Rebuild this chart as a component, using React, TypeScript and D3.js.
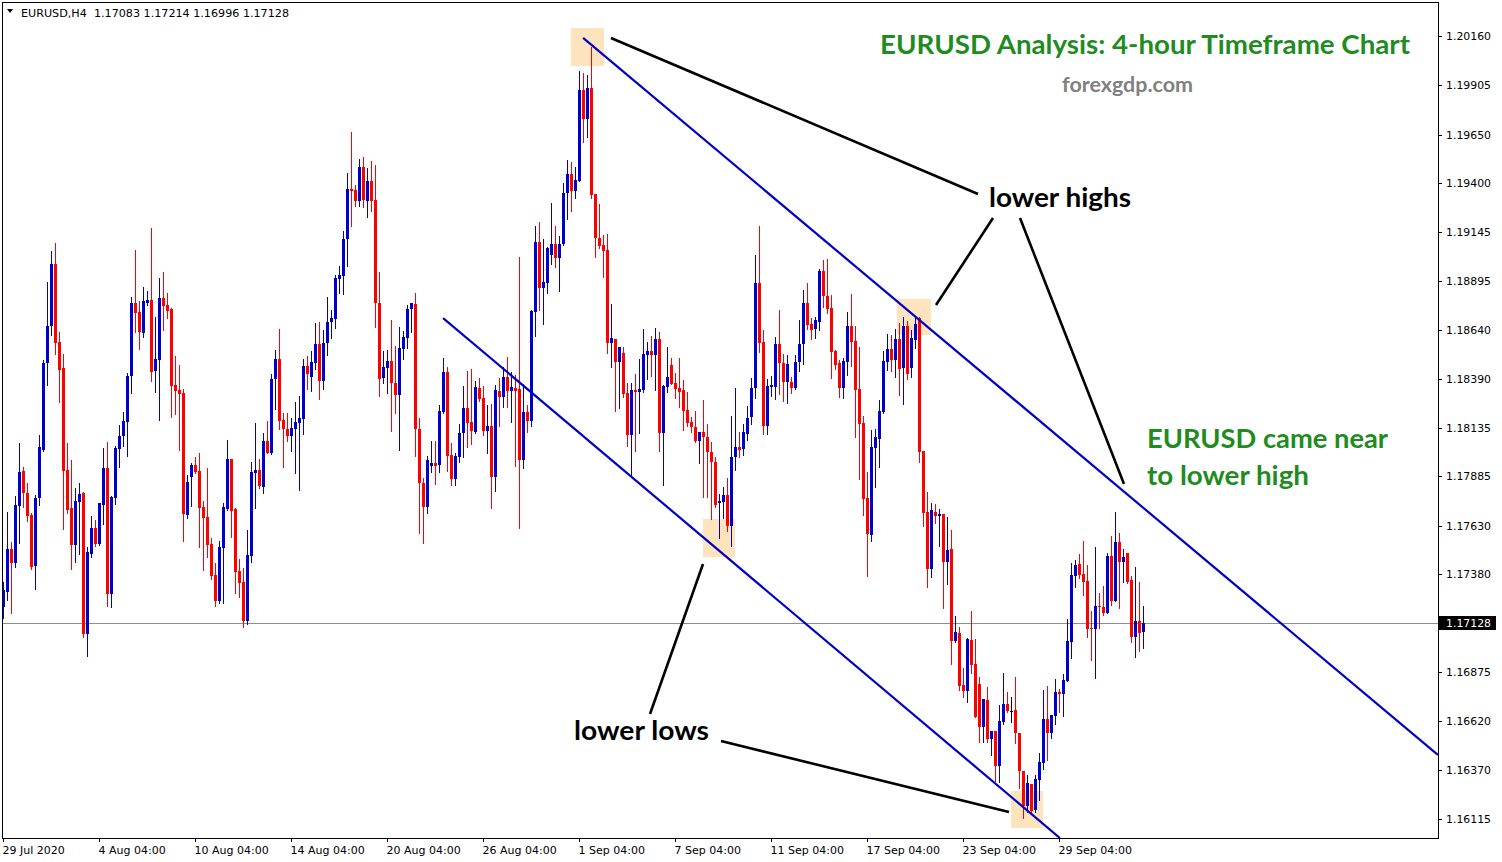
import React, { useRef, useEffect } from 'react'
import { select, scaleLinear } from 'd3'

// EURUSD H4 candles (29 Jul 2020 .. 1 Oct 2020)
const opens = [
  1.17211, 1.17289, 1.17510, 1.17436, 1.17732, 1.17913, 1.17797, 1.17685, 1.17423, 1.17772,
  1.18021, 1.18469, 1.18662, 1.18984, 1.18579, 1.18446, 1.17918, 1.17723, 1.17530, 1.17754,
  1.17797, 1.17070, 1.17484, 1.17620, 1.17535, 1.17737, 1.17930, 1.17277, 1.17775, 1.18028,
  1.18093, 1.18167, 1.18405, 1.18779, 1.18732, 1.18627, 1.18783, 1.18796, 1.18431, 1.18486,
  1.18805, 1.18770, 1.18750, 1.18357, 1.18331, 1.18317, 1.17685, 1.17883, 1.17944, 1.17914,
  1.17728, 1.17676, 1.17535, 1.17375, 1.17242, 1.17516, 1.17715, 1.17975, 1.17716, 1.17396,
  1.17341, 1.17139, 1.17475, 1.17904, 1.17918, 1.17831, 1.18068, 1.18004, 1.18388, 1.18491,
  1.18176, 1.18130, 1.18093, 1.18130, 1.18159, 1.18181, 1.18455, 1.18400, 1.18472, 1.18569,
  1.18379, 1.18572, 1.18681, 1.18698, 1.18904, 1.18922, 1.19109, 1.19370, 1.19364, 1.19309,
  1.19485, 1.19309, 1.19411, 1.19313, 1.18782, 1.18395, 1.18446, 1.18482, 1.18369, 1.18305,
  1.18541, 1.18601, 1.18748, 1.18775, 1.18128, 1.17849, 1.17725, 1.17940, 1.17955, 1.17944,
  1.18216, 1.18422, 1.17995, 1.17871, 1.17986, 1.18107, 1.18240, 1.18164, 1.18116, 1.18343,
  1.18291, 1.18121, 1.18147, 1.17883, 1.18327, 1.18293, 1.18400, 1.18327, 1.18343, 1.18335,
  1.17969, 1.18216, 1.18171, 1.18736, 1.19097, 1.18860, 1.18885, 1.19029, 1.19084, 1.19015,
  1.19084, 1.19347, 1.19447, 1.19361, 1.19412, 1.19881, 1.19731, 1.19893, 1.19344, 1.19115,
  1.19080, 1.19054, 1.18572, 1.18595, 1.18477, 1.18524, 1.18317, 1.18099, 1.18331, 1.18322,
  1.18331, 1.18512, 1.18533, 1.18512, 1.18595, 1.18110, 1.18348, 1.18460, 1.18369, 1.18343,
  1.18331, 1.18228, 1.18167, 1.18141, 1.18069, 1.18116, 1.18090, 1.18009, 1.17961, 1.17746,
  1.17754, 1.17789, 1.17630, 1.17983, 1.18035, 1.18026, 1.18102, 1.18193, 1.18340, 1.18885,
  1.18581, 1.18147, 1.18348, 1.18348, 1.18569, 1.18469, 1.18374, 1.18371, 1.18343, 1.18477,
  1.18569, 1.18783, 1.18672, 1.18645, 1.18684, 1.18946, 1.18817, 1.18756, 1.18533, 1.18472,
  1.18343, 1.18477, 1.18662, 1.18586, 1.18336, 1.18162, 1.17775, 1.17582, 1.18030, 1.18078,
  1.18216, 1.18477, 1.18543, 1.18486, 1.18595, 1.18443, 1.18662, 1.18446, 1.18589, 1.18701,
  1.18016, 1.17702, 1.17405, 1.17702, 1.17682, 1.17690, 1.17444, 1.17508, 1.17034, 1.17077,
  1.16807, 1.16777, 1.17039, 1.16915, 1.16812, 1.16591, 1.16729, 1.16526, 1.16569, 1.16390,
  1.16617, 1.16707, 1.16674, 1.16678, 1.16557, 1.16363, 1.16183, 1.16294, 1.16161, 1.16316,
  1.16402, 1.16631, 1.16557, 1.16648, 1.16769, 1.16759, 1.16828, 1.17031, 1.17372, 1.17430,
  1.17380, 1.17344, 1.17100, 1.17095, 1.17215, 1.17211, 1.17177, 1.17475, 1.17241, 1.17544,
  1.17444, 1.17487, 1.17349, 1.17056, 1.17138, 1.17083,
]

const highs = [
  1.17341, 1.17702, 1.17547, 1.17785, 1.18059, 1.17935, 1.17852, 1.17697, 1.17789, 1.18099,
  1.18486, 1.18891, 1.19051, 1.19092, 1.18632, 1.18517, 1.18059, 1.17969, 1.17826, 1.17850,
  1.17802, 1.17521, 1.17680, 1.17659, 1.17749, 1.18033, 1.18064, 1.17783, 1.18042, 1.18150,
  1.18216, 1.18417, 1.18810, 1.19054, 1.18791, 1.18865, 1.18843, 1.19166, 1.18710, 1.18908,
  1.18942, 1.18831, 1.18753, 1.18507, 1.18460, 1.18335, 1.17892, 1.17955, 1.17983, 1.18007,
  1.17758, 1.17926, 1.17565, 1.17436, 1.17551, 1.17749, 1.18073, 1.17975, 1.17721, 1.17456,
  1.17410, 1.17608, 1.17961, 1.18162, 1.17975, 1.18110, 1.18171, 1.18414, 1.18538, 1.18646,
  1.18211, 1.18211, 1.18185, 1.18267, 1.18300, 1.18491, 1.18507, 1.18533, 1.18679, 1.18684,
  1.18641, 1.18813, 1.18744, 1.18925, 1.18973, 1.19152, 1.19454, 1.19662, 1.19390, 1.19525,
  1.19535, 1.19480, 1.19514, 1.19494, 1.18939, 1.18533, 1.18538, 1.18693, 1.18558, 1.18658,
  1.18637, 1.18770, 1.18783, 1.18834, 1.18188, 1.17875, 1.17990, 1.18068, 1.18068, 1.18254,
  1.18498, 1.18451, 1.18059, 1.18007, 1.18154, 1.18353, 1.18431, 1.18440, 1.18379, 1.18391,
  1.18352, 1.18254, 1.18259, 1.18357, 1.18391, 1.18451, 1.18503, 1.18422, 1.18409, 1.19020,
  1.18362, 1.18254, 1.18744, 1.19178, 1.19201, 1.19111, 1.19070, 1.19299, 1.19178, 1.19127,
  1.19402, 1.19519, 1.19511, 1.19482, 1.19979, 1.19967, 1.19959, 1.20105, 1.19344, 1.19292,
  1.19132, 1.19137, 1.18775, 1.18595, 1.18555, 1.18552, 1.18366, 1.18366, 1.18414, 1.18491,
  1.18646, 1.18581, 1.18612, 1.18653, 1.18632, 1.18357, 1.18555, 1.18495, 1.18417, 1.18495,
  1.18383, 1.18322, 1.18193, 1.18224, 1.18116, 1.18279, 1.18155, 1.18061, 1.17983, 1.17794,
  1.17831, 1.17875, 1.18198, 1.18343, 1.18112, 1.18155, 1.18250, 1.18391, 1.19029, 1.19180,
  1.18641, 1.18386, 1.18403, 1.18606, 1.18744, 1.18515, 1.18512, 1.18400, 1.18512, 1.18693,
  1.18848, 1.18885, 1.18701, 1.18710, 1.18955, 1.19003, 1.19008, 1.18822, 1.18538, 1.18486,
  1.18498, 1.18736, 1.18827, 1.18662, 1.18555, 1.18198, 1.17909, 1.18124, 1.18130, 1.18279,
  1.18533, 1.18620, 1.18615, 1.18646, 1.18676, 1.18710, 1.18688, 1.18641, 1.18710, 1.18710,
  1.18016, 1.17806, 1.17749, 1.17742, 1.17716, 1.17690, 1.17673, 1.17608, 1.17165, 1.17105,
  1.16896, 1.17048, 1.17189, 1.17043, 1.16847, 1.16733, 1.16795, 1.16569, 1.16569, 1.16704,
  1.16867, 1.16769, 1.16746, 1.16850, 1.16557, 1.16363, 1.16342, 1.16294, 1.16342, 1.16455,
  1.16781, 1.16803, 1.16652, 1.16838, 1.16785, 1.16864, 1.17148, 1.17436, 1.17453, 1.17484,
  1.17551, 1.17427, 1.17189, 1.17521, 1.17284, 1.17320, 1.17487, 1.17577, 1.17699, 1.17591,
  1.17510, 1.17487, 1.17370, 1.17418, 1.17341, 1.17214,
]

const lows = [
  1.17151, 1.17246, 1.17180, 1.17418, 1.17542, 1.17725, 1.17656, 1.17405, 1.17303, 1.17737,
  1.18017, 1.18357, 1.18615, 1.18517, 1.18271, 1.17613, 1.17694, 1.17406, 1.17442, 1.17484,
  1.17053, 1.16957, 1.17470, 1.17525, 1.17530, 1.17639, 1.17215, 1.17211, 1.17742, 1.17933,
  1.18043, 1.17992, 1.18314, 1.18632, 1.18543, 1.18606, 1.18770, 1.18378, 1.18322, 1.18176,
  1.18641, 1.18701, 1.18193, 1.18205, 1.18021, 1.17552, 1.17668, 1.17732, 1.17901, 1.17521,
  1.17401, 1.17467, 1.17355, 1.17217, 1.17229, 1.17229, 1.17711, 1.17570, 1.17281, 1.17260,
  1.17108, 1.17122, 1.17444, 1.17720, 1.17823, 1.17797, 1.18004, 1.18000, 1.18233, 1.18130,
  1.17935, 1.18069, 1.18016, 1.17904, 1.17814, 1.18104, 1.18336, 1.18327, 1.18438, 1.18285,
  1.18336, 1.18512, 1.18598, 1.18650, 1.18831, 1.18827, 1.18973, 1.19180, 1.19283, 1.19283,
  1.19278, 1.19226, 1.19257, 1.18658, 1.18300, 1.18366, 1.18314, 1.18121, 1.18214, 1.18021,
  1.18490, 1.18550, 1.18632, 1.17990, 1.17594, 1.17542, 1.17694, 1.17909, 1.17845, 1.17909,
  1.18211, 1.17914, 1.17840, 1.17840, 1.17961, 1.17983, 1.18038, 1.18052, 1.18110, 1.18276,
  1.18099, 1.18007, 1.17723, 1.17811, 1.18147, 1.18245, 1.18245, 1.18167, 1.17940, 1.17620,
  1.17926, 1.18112, 1.18147, 1.18612, 1.18744, 1.18672, 1.18834, 1.18982, 1.18968, 1.18843,
  1.19080, 1.19215, 1.19256, 1.19325, 1.19412, 1.19614, 1.19640, 1.19321, 1.19017, 1.19066,
  1.18916, 1.18524, 1.18451, 1.18224, 1.18236, 1.18296, 1.18043, 1.17883, 1.18016, 1.18110,
  1.18319, 1.18388, 1.18405, 1.18331, 1.18016, 1.17840, 1.18322, 1.18362, 1.18291, 1.18245,
  1.18124, 1.18145, 1.18112, 1.18064, 1.17952, 1.17777, 1.17777, 1.17665, 1.17725, 1.17568,
  1.17671, 1.17604, 1.17527, 1.17918, 1.17986, 1.17995, 1.18073, 1.18155, 1.18288, 1.18529,
  1.18102, 1.18104, 1.18302, 1.18285, 1.18310, 1.18276, 1.18265, 1.18317, 1.18335, 1.18431,
  1.18464, 1.18646, 1.18593, 1.18598, 1.18641, 1.18761, 1.18730, 1.18395, 1.18440, 1.18296,
  1.18291, 1.18409, 1.18457, 1.18090, 1.17871, 1.17685, 1.17372, 1.17552, 1.17829, 1.17935,
  1.18211, 1.18434, 1.18429, 1.18397, 1.18305, 1.18259, 1.18388, 1.18400, 1.18550, 1.17957,
  1.17628, 1.17315, 1.17363, 1.17645, 1.17527, 1.17203, 1.17329, 1.16915, 1.17027, 1.16781,
  1.16746, 1.16717, 1.16867, 1.16640, 1.16511, 1.16514, 1.16511, 1.16445, 1.16312, 1.16304,
  1.16604, 1.16666, 1.16617, 1.16509, 1.16276, 1.16118, 1.16149, 1.16144, 1.16152, 1.16213,
  1.16371, 1.16419, 1.16535, 1.16605, 1.16666, 1.16648, 1.16828, 1.16948, 1.17315, 1.17358,
  1.17272, 1.17056, 1.16936, 1.16845, 1.17100, 1.17169, 1.17177, 1.17220, 1.17241, 1.17206,
  1.17341, 1.17335, 1.17031, 1.16953, 1.16984, 1.16996,
]

const closes = [
  1.17298, 1.17510, 1.17436, 1.17737, 1.17909, 1.17797, 1.17682, 1.17418, 1.17775, 1.18037,
  1.18471, 1.18662, 1.18984, 1.18572, 1.18434, 1.17914, 1.17711, 1.17530, 1.17758, 1.17794,
  1.17070, 1.17496, 1.17620, 1.17535, 1.17746, 1.17930, 1.17277, 1.17780, 1.18033, 1.18093,
  1.18171, 1.18403, 1.18779, 1.18730, 1.18632, 1.18791, 1.18796, 1.18426, 1.18490, 1.18805,
  1.18765, 1.18741, 1.18353, 1.18326, 1.18310, 1.17690, 1.17857, 1.17944, 1.17909, 1.17723,
  1.17671, 1.17530, 1.17372, 1.17242, 1.17521, 1.17728, 1.17975, 1.17707, 1.17392, 1.17335,
  1.17139, 1.17478, 1.17909, 1.17918, 1.17837, 1.18068, 1.18007, 1.18388, 1.18491, 1.18172,
  1.18130, 1.18093, 1.18133, 1.18164, 1.18185, 1.18455, 1.18414, 1.18474, 1.18569, 1.18379,
  1.18575, 1.18684, 1.18701, 1.18911, 1.18925, 1.19111, 1.19370, 1.19361, 1.19309, 1.19485,
  1.19313, 1.19411, 1.19309, 1.18779, 1.18386, 1.18451, 1.18482, 1.18366, 1.18305, 1.18546,
  1.18606, 1.18750, 1.18779, 1.18128, 1.17849, 1.17725, 1.17969, 1.17952, 1.17938, 1.18223,
  1.18426, 1.17992, 1.17871, 1.17992, 1.18110, 1.18240, 1.18159, 1.18119, 1.18345, 1.18285,
  1.18121, 1.18147, 1.17883, 1.18331, 1.18293, 1.18400, 1.18327, 1.18345, 1.18326, 1.17969,
  1.18216, 1.18171, 1.18739, 1.19097, 1.18860, 1.18887, 1.19066, 1.19084, 1.19015, 1.19084,
  1.19350, 1.19447, 1.19359, 1.19416, 1.19881, 1.19731, 1.19893, 1.19339, 1.19115, 1.19075,
  1.19051, 1.18575, 1.18598, 1.18477, 1.18555, 1.18310, 1.18099, 1.18331, 1.18322, 1.18335,
  1.18517, 1.18533, 1.18512, 1.18595, 1.18110, 1.18353, 1.18400, 1.18362, 1.18336, 1.18322,
  1.18224, 1.18159, 1.18138, 1.18069, 1.18116, 1.18087, 1.18009, 1.17961, 1.17737, 1.17758,
  1.17789, 1.17630, 1.17986, 1.18035, 1.18021, 1.18112, 1.18188, 1.18343, 1.18885, 1.18575,
  1.18147, 1.18353, 1.18357, 1.18569, 1.18469, 1.18374, 1.18465, 1.18343, 1.18477, 1.18569,
  1.18782, 1.18667, 1.18641, 1.18693, 1.18947, 1.18817, 1.18750, 1.18529, 1.18460, 1.18343,
  1.18481, 1.18662, 1.18581, 1.18331, 1.18155, 1.17768, 1.17587, 1.18038, 1.18090, 1.18223,
  1.18481, 1.18543, 1.18486, 1.18595, 1.18440, 1.18662, 1.18414, 1.18598, 1.18672, 1.18012,
  1.17697, 1.17405, 1.17711, 1.17682, 1.17690, 1.17444, 1.17504, 1.17034, 1.17079, 1.16803,
  1.16777, 1.17045, 1.16910, 1.16640, 1.16591, 1.16733, 1.16526, 1.16569, 1.16390, 1.16621,
  1.16707, 1.16674, 1.16674, 1.16557, 1.16363, 1.16183, 1.16299, 1.16156, 1.16321, 1.16407,
  1.16631, 1.16557, 1.16652, 1.16769, 1.16759, 1.16833, 1.17034, 1.17375, 1.17427, 1.17375,
  1.17341, 1.17095, 1.17095, 1.17215, 1.17208, 1.17177, 1.17475, 1.17241, 1.17544, 1.17444,
  1.17470, 1.17341, 1.17056, 1.17138, 1.17077, 1.17128,
]

const dateLabels = ['29 Jul 2020', '4 Aug 04:00', '10 Aug 04:00', '14 Aug 04:00', '20 Aug 04:00', '26 Aug 04:00',
  '1 Sep 04:00', '7 Sep 04:00', '11 Sep 04:00', '17 Sep 04:00', '23 Sep 04:00', '29 Sep 04:00']
const dateIndex = [0, 24, 48, 72, 96, 120, 144, 168, 192, 216, 240, 264]

const priceTicks = [1.2016, 1.19905, 1.1965, 1.194, 1.19145, 1.18895, 1.1864, 1.1839, 1.18135,
  1.17885, 1.1763, 1.1738, 1.16875, 1.1662, 1.1637, 1.16115]
const lastPrice = 1.17128
const headerText = 'EURUSD,H4  1.17083 1.17214 1.16996 1.17128'

// channel lines, in candle index / price
const channel = [
  { i1: 144.9, p1: 1.2015, i2: 358.6, p2: 1.16446 },
  { i1: 109.9, p1: 1.18703, i2: 264.1, p2: 1.16017 },
]

// annotation layer (pixels)
const boxes = [[571, 28, 33, 38], [897, 299, 34, 36], [703, 519, 32, 38], [1011, 791, 32, 37]]
const pointers = [[611, 38, 978, 194], [993, 218, 936, 305], [1020, 218, 1124, 484], [650, 714, 703, 564], [721, 741, 1009, 812]]
const notes = [
  { t: 'EURUSD Analysis: 4-hour Timeframe Chart', x: 880, y: 54, w: 530, size: 26, color: '#1f8c1f' },
  { t: 'forexgdp.com', x: 1062, y: 92, w: 131, size: 20, color: '#808080' },
  { t: 'lower highs', x: 989, y: 207, w: 142, size: 27, color: '#000' },
  { t: 'EURUSD came near', x: 1147, y: 448, w: 241, size: 27, color: '#1f8c1f' },
  { t: 'to lower high', x: 1147, y: 485, w: 162, size: 27, color: '#1f8c1f' },
  { t: 'lower lows', x: 574, y: 740, w: 135, size: 27, color: '#000' },
]

const BLUE = '#0000cd'
const RED = '#ff0000'
const AXIS_FONT = '"DejaVu Sans", Tahoma, sans-serif'

function drawChart (svg: any) {
  const left = 3, top = 3, right = 1438, bottom = 838
  const n = closes.length
  const x = scaleLinear().domain([0, n - 1]).range([3.5, 3.5 + 4 * (n - 1)])
  const y = scaleLinear().domain([1.16115, 1.2016]).range([819, 36])

  svg.append('rect').attr('width', 1502).attr('height', 862).attr('fill', '#fff')

  svg.append('defs').append('clipPath').attr('id', 'plot-clip')
    .append('rect').attr('x', left).attr('y', top).attr('width', right - left).attr('height', bottom - top)

  const body = svg.append('g').attr('clip-path', 'url(#plot-clip)')

  body.selectAll('rect.box').data(boxes).enter().append('rect')
    .attr('class', 'box')
    .attr('x', (d: number[]) => d[0]).attr('y', (d: number[]) => d[1])
    .attr('width', (d: number[]) => d[2]).attr('height', (d: number[]) => d[3])
    .attr('fill', '#fde4bc')

  // last price line
  body.append('line')
    .attr('x1', left).attr('x2', right)
    .attr('y1', Math.round(y(lastPrice)) + 0.5).attr('y2', Math.round(y(lastPrice)) + 0.5)
    .attr('stroke', '#8a8f96').attr('stroke-width', 1)

  const candles = closes.map((c, i) => ({ i, o: opens[i], h: highs[i], l: lows[i], c }))
  const colorOf = (d: any) => d.c > d.o ? BLUE : d.c < d.o ? RED : '#000'

  const g = body.append('g').attr('shape-rendering', 'crispEdges')
  g.selectAll('rect.wick').data(candles).enter().append('rect')
    .attr('class', 'wick')
    .attr('x', (d: any) => x(d.i) - 0.5)
    .attr('y', (d: any) => Math.round(y(d.h)))
    .attr('width', 1)
    .attr('height', (d: any) => Math.max(1, Math.round(y(d.l)) - Math.round(y(d.h)) + 1))
    .attr('fill', colorOf)
  g.selectAll('rect.body').data(candles).enter().append('rect')
    .attr('class', 'body')
    .attr('x', (d: any) => x(d.i) - 1.5)
    .attr('y', (d: any) => Math.round(y(Math.max(d.o, d.c))))
    .attr('width', 3)
    .attr('height', (d: any) => Math.max(1, Math.round(y(Math.min(d.o, d.c))) - Math.round(y(Math.max(d.o, d.c)))))
    .attr('fill', colorOf)

  body.selectAll('line.channel').data(channel).enter().append('line')
    .attr('x1', (d: any) => x(d.i1)).attr('y1', (d: any) => y(d.p1))
    .attr('x2', (d: any) => x(d.i2)).attr('y2', (d: any) => y(d.p2))
    .attr('stroke', '#0000c8').attr('stroke-width', 2.2)

  body.selectAll('line.pointer').data(pointers).enter().append('line')
    .attr('x1', (d: number[]) => d[0]).attr('y1', (d: number[]) => d[1])
    .attr('x2', (d: number[]) => d[2]).attr('y2', (d: number[]) => d[3])
    .attr('stroke', '#000').attr('stroke-width', 2.6)

  svg.selectAll('text.note').data(notes).enter().append('text')
    .attr('x', (d: any) => d.x).attr('y', (d: any) => d.y)
    .attr('font-family', 'Lato, "Open Sans", sans-serif')
    .attr('font-weight', 700)
    .attr('font-size', (d: any) => d.size)
    .attr('fill', (d: any) => d.color)
    .attr('textLength', (d: any) => d.w)
    .attr('lengthAdjust', 'spacingAndGlyphs')
    .text((d: any) => d.t)

  // header
  svg.append('path').attr('d', 'M7,9 L13,9 L10,13 Z').attr('fill', '#000')
  svg.append('text').attr('x', 21).attr('y', 17)
    .attr('font-family', AXIS_FONT).attr('font-size', 11)
    .attr('textLength', 268).attr('lengthAdjust', 'spacingAndGlyphs')
    .style('white-space', 'pre').text(headerText)

  // frame
  svg.append('rect').attr('x', 2.5).attr('y', 2.5).attr('width', right - 2).attr('height', bottom - 2)
    .attr('fill', 'none').attr('stroke', '#000').attr('stroke-width', 1)

  // price axis
  const yAxis = svg.append('g').attr('font-family', AXIS_FONT).attr('font-size', 11)
  priceTicks.forEach(v => {
    const py = Math.round(y(v))
    yAxis.append('line').attr('x1', right).attr('x2', right + 4).attr('y1', py + 0.5).attr('y2', py + 0.5).attr('stroke', '#000')
    yAxis.append('text').attr('x', 1446).attr('y', py + 4).attr('fill', '#000')
      .attr('textLength', 45).attr('lengthAdjust', 'spacingAndGlyphs').text(v.toFixed(5))
  })
  const ly = Math.round(y(lastPrice))
  yAxis.append('rect').attr('x', 1439).attr('y', ly - 7).attr('width', 57).attr('height', 14).attr('fill', '#000')
  yAxis.append('text').attr('x', 1446).attr('y', ly + 4).attr('fill', '#fff')
    .attr('textLength', 45).attr('lengthAdjust', 'spacingAndGlyphs').text(lastPrice.toFixed(5))

  // time axis
  const xAxis = svg.append('g').attr('font-family', AXIS_FONT).attr('font-size', 11)
  dateIndex.forEach((idx, k) => {
    const px = Math.round(x(idx)) - 0.5
    xAxis.append('line').attr('x1', px).attr('x2', px).attr('y1', bottom).attr('y2', bottom + 4).attr('stroke', '#000')
    xAxis.append('text').attr('x', px - 1).attr('y', 854).attr('fill', '#000').text(dateLabels[k])
  })
}

export default function App () {
  const ref = useRef<SVGSVGElement>(null)
  useEffect(() => {
    if (ref.current === null) return
    const svg = select(ref.current)
    svg.selectAll('*').remove()
    drawChart(svg)
  }, [])
  return <svg ref={ref} width={1502} height={862} style={{ position: 'absolute', left: 0, top: 0 }} />
}
